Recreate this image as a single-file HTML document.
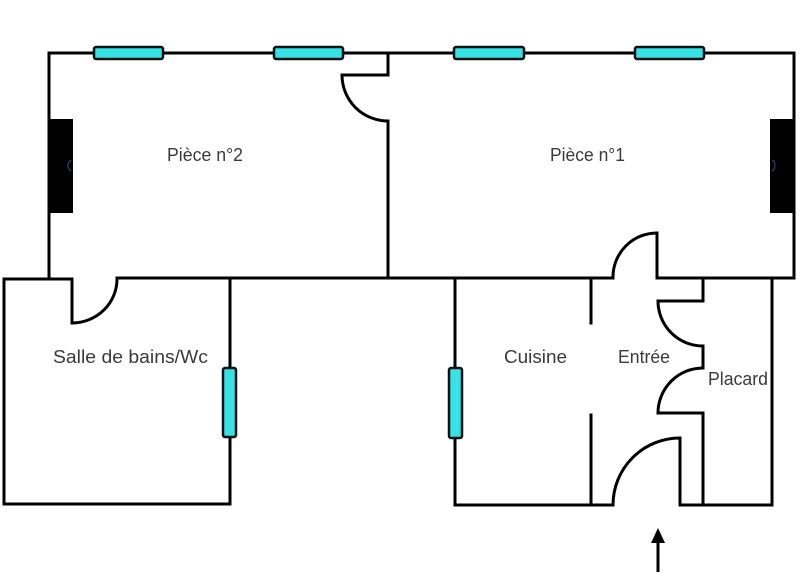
<!DOCTYPE html>
<html>
<head>
<meta charset="utf-8">
<style>
html,body{margin:0;padding:0;background:#fff;}
svg{display:block;}
text{font-family:"Liberation Sans",Arial,sans-serif;fill:#3a3a3a;font-size:18px;}
</style>
</head>
<body>
<svg width="800" height="583" viewBox="0 0 800 583" xmlns="http://www.w3.org/2000/svg">
<rect width="800" height="583" fill="#fff"/>
<g fill="none" stroke="#000" stroke-width="3" stroke-linejoin="miter" stroke-linecap="square">
  <!-- outer top rooms -->
  <path d="M49,278 V53 H794 V278 H657 V233"/>
  <path d="M657,233 A44,44 0 0 0 613,278" stroke-linecap="butt"/>
  <!-- main horizontal line -->
  <path d="M613,278 H117"/>
  <path d="M117,279 A45,44 0 0 1 72,323" stroke-linecap="butt"/>
  <path d="M72,323 V279 H4 V504 H230 V279"/>
  <!-- partition between rooms -->
  <path d="M388,278 V121"/>
  <path d="M388,121 A46,46 0 0 1 342,75" stroke-linecap="butt"/>
  <path d="M342,75 H388 V53"/>
  <!-- kitchen / entry -->
  <path d="M455,278 V505 H613"/>
  <path d="M613,505 A67,67 0 0 1 680,438" stroke-linecap="butt"/>
  <path d="M680,438 V505 H772 V278"/>
  <path d="M591,278 V323"/>
  <path d="M591,415 V505"/>
  <!-- placard -->
  <path d="M703,278 V301 H658"/>
  <path d="M658,301 A45,45 0 0 0 703,346" stroke-linecap="butt"/>
  <path d="M703,346 V368"/>
  <path d="M703,368 A45,45 0 0 0 658,413" stroke-linecap="butt"/>
  <path d="M658,413 H703 V505"/>
</g>
<!-- windows -->
<g fill="#36e2e6" stroke="#111" stroke-width="2.5">
  <rect x="94" y="47" width="69" height="12" rx="2"/>
  <rect x="274" y="47" width="69" height="12" rx="2"/>
  <rect x="454" y="47" width="70" height="12" rx="2"/>
  <rect x="635" y="47" width="69" height="12" rx="2"/>
  <rect x="223" y="368" width="13" height="69" rx="2"/>
  <rect x="449" y="368" width="13" height="70" rx="2"/>
</g>
<!-- black blocks -->
<rect x="48" y="119" width="25" height="94" fill="#000"/>
<rect x="770" y="119" width="25" height="94" fill="#000"/>
<path d="M71,160 A5,6 0 0 0 71,171" fill="none" stroke="#3a4a9a" stroke-width="1"/>
<path d="M772,160 A5,6 0 0 1 772,171" fill="none" stroke="#3a4a9a" stroke-width="1"/>
<!-- arrow -->
<line x1="658" y1="541" x2="658" y2="572" stroke="#000" stroke-width="3"/>
<polygon points="658,528 651,543 665,543" fill="#000"/>
<!-- labels -->
<text x="167" y="161" textLength="76" lengthAdjust="spacingAndGlyphs">Pièce n°2</text>
<text x="550" y="161" textLength="75" lengthAdjust="spacingAndGlyphs">Pièce n°1</text>
<text x="53" y="363" textLength="155" lengthAdjust="spacingAndGlyphs">Salle de bains/Wc</text>
<text x="504" y="363" textLength="63" lengthAdjust="spacingAndGlyphs">Cuisine</text>
<text x="618" y="363" textLength="52" lengthAdjust="spacingAndGlyphs">Entrée</text>
<text x="708" y="385" textLength="60" lengthAdjust="spacingAndGlyphs">Placard</text>
</svg>
</body>
</html>
